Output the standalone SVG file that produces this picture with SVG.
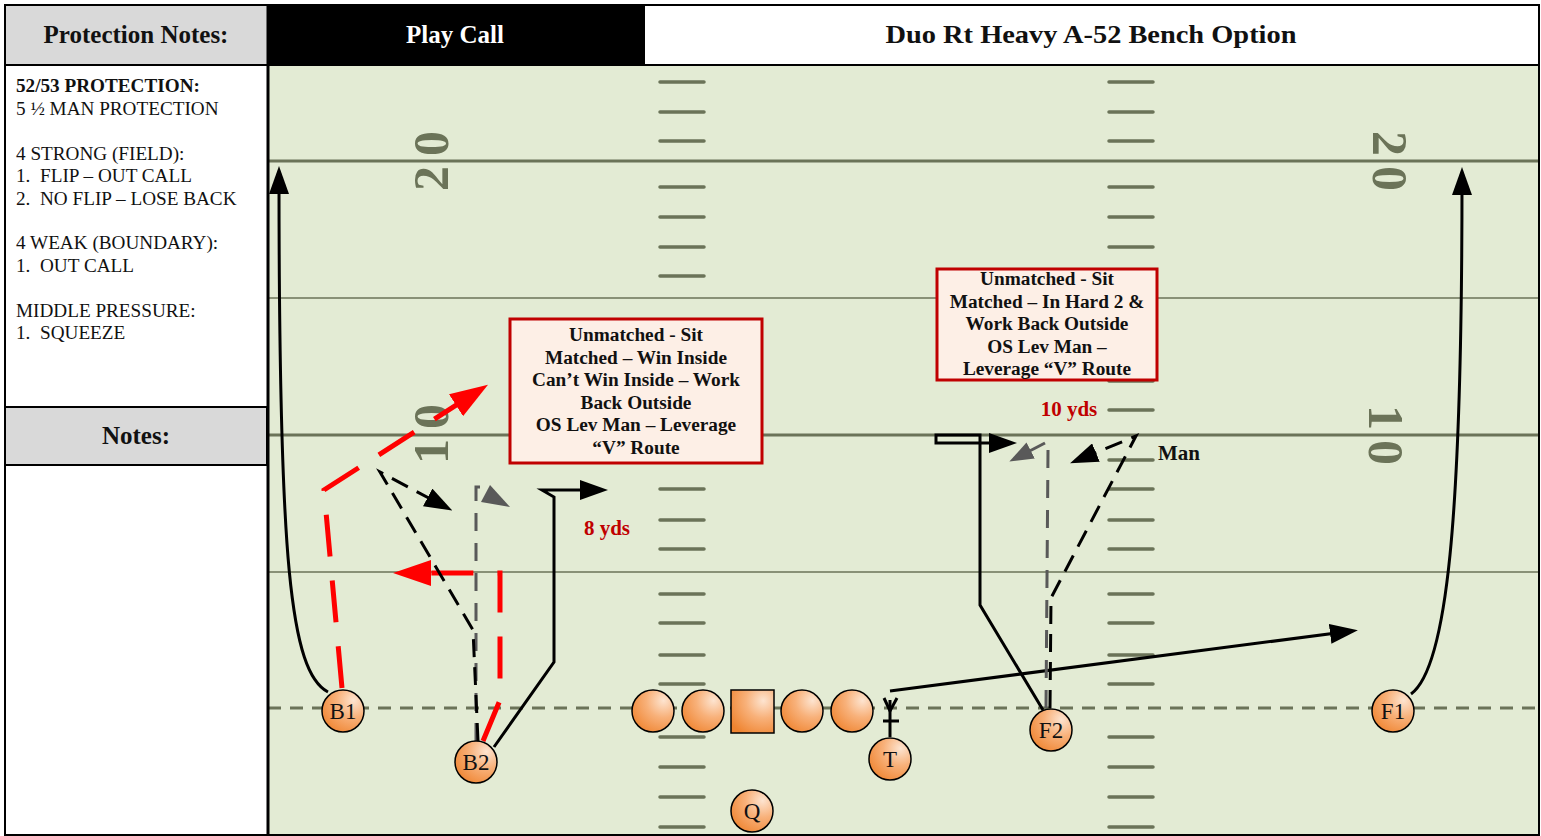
<svg xmlns="http://www.w3.org/2000/svg" width="1541" height="836" viewBox="0 0 1541 836">
<defs>
<radialGradient id="pg" cx="0.75" cy="0.25" r="0.9">
<stop offset="0" stop-color="#fde4d0"/>
<stop offset="0.45" stop-color="#f8b17a"/>
<stop offset="1" stop-color="#ef8430"/>
</radialGradient>
<marker id="ab" markerUnits="userSpaceOnUse" markerWidth="28" markerHeight="20" viewBox="0 0 28 20" refX="14" refY="10" orient="auto"><path d="M0,0 L28,10 L0,20 z" fill="#000"/></marker>
<marker id="ar" markerUnits="userSpaceOnUse" markerWidth="38" markerHeight="26" viewBox="0 0 38 26" refX="19" refY="13" orient="auto"><path d="M0,0 L38,13 L0,26 z" fill="#f00"/></marker>
<marker id="ag" markerUnits="userSpaceOnUse" markerWidth="24" markerHeight="18" viewBox="0 0 24 18" refX="12" refY="9" orient="auto"><path d="M0,0 L24,9 L0,18 z" fill="#595959"/></marker>
</defs>
<style>
.fl{stroke:#6b7358;fill:none}
.hash{stroke:#6b7358;stroke-width:3.5;stroke-linecap:round}
.yn{font-family:"Liberation Serif",serif;font-size:50px;font-weight:bold;fill:#6b7358;letter-spacing:10px;text-anchor:middle;dominant-baseline:central}
.pl{fill:url(#pg);stroke:#000;stroke-width:1.5}
.plt{font-family:"Liberation Serif",serif;font-size:23px;text-anchor:middle;fill:#111}
.solid{fill:none;stroke:#000;stroke-width:3}
.bd{fill:none;stroke:#000;stroke-width:3;stroke-dasharray:18 10}
.gd{fill:none;stroke:#595959;stroke-width:3;stroke-dasharray:18 12}
.rd{fill:none;stroke:#f00;stroke-width:5;stroke-dasharray:42 24}
.box{fill:#fdefe6;stroke:#c00000;stroke-width:3}
.bt{font-family:"Liberation Serif",serif;font-weight:bold;font-size:19.3px;text-anchor:middle;fill:#111}
.pt{font-family:"Liberation Serif",serif;font-size:19.2px;fill:#111}
.ptb{font-weight:bold}
.hd{font-family:"Liberation Serif",serif;font-weight:bold;font-size:25px;text-anchor:middle}
.yd{font-family:"Liberation Serif",serif;font-weight:bold;font-size:21px;fill:#c00000;text-anchor:middle}
</style>

<rect x="0" y="0" width="1541" height="836" fill="#fff"/>
<g id="field">
<rect x="268" y="65" width="1271" height="771" fill="#e3ebd4"/>
<line class="fl" x1="268" y1="161" x2="1539" y2="161" stroke-width="3"/>
<line class="fl" x1="268" y1="298" x2="1539" y2="298" stroke-width="1.5"/>
<line class="fl" x1="268" y1="435" x2="1539" y2="435" stroke-width="3"/>
<line class="fl" x1="268" y1="572" x2="1539" y2="572" stroke-width="1.5"/>
<line class="fl" x1="268" y1="708" x2="1539" y2="708" stroke-width="3" stroke-dasharray="13 9"/>
<g id="hashes">
<path class="hash" d="M660,82H704M660,112H704M660,141H704M660,187H704M660,217H704M660,247H704M660,276H704M660,323H704M660,352H704M660,381H704M660,410H704M660,460H704M660,489H704M660,520H704M660,549H704M660,594H704M660,623H704M660,655H704M660,684H704M660,737H704M660,767H704M660,797H704M660,827H704"/>
<path class="hash" d="M1109,82H1153M1109,112H1153M1109,141H1153M1109,187H1153M1109,217H1153M1109,247H1153M1109,276H1153M1109,323H1153M1109,352H1153M1109,381H1153M1109,410H1153M1109,460H1153M1109,489H1153M1109,520H1153M1109,549H1153M1109,594H1153M1109,623H1153M1109,655H1153M1109,684H1153M1109,737H1153M1109,767H1153M1109,797H1153M1109,827H1153"/>
</g>
<text class="yn" transform="translate(431,161) rotate(-90)" x="5" y="0">20</text>
<text class="yn" transform="translate(431,434) rotate(-90)" x="5" y="0">10</text>
<text class="yn" transform="translate(1390,161) rotate(90)" x="5" y="0">20</text>
<text class="yn" transform="translate(1386,435) rotate(90)" x="5" y="0">10</text>
</g>

<g id="header">
<rect x="5" y="5" width="262" height="60" fill="#d9d9d9"/>
<rect x="267" y="5" width="378" height="60" fill="#000"/>
<text class="hd" x="136" y="43" fill="#111">Protection Notes:</text>
<text class="hd" x="455" y="43" fill="#fff">Play Call</text>
<text class="hd" x="1091" y="43" fill="#111" font-size="28" textLength="411" lengthAdjust="spacingAndGlyphs">Duo Rt Heavy A-52 Bench Option</text>
</g>
<g id="protection-notes">
<text class="pt ptb" x="16" y="92">52/53 PROTECTION:</text>
<text class="pt" x="16" y="114.5">5 ½ MAN PROTECTION</text>
<text class="pt" x="16" y="159.5">4 STRONG (FIELD):</text>
<text class="pt" y="182"><tspan x="16">1.</tspan><tspan x="40">FLIP – OUT CALL</tspan></text>
<text class="pt" y="204.5"><tspan x="16">2.</tspan><tspan x="40">NO FLIP – LOSE BACK</tspan></text>
<text class="pt" x="16" y="249">4 WEAK (BOUNDARY):</text>
<text class="pt" y="271.5"><tspan x="16">1.</tspan><tspan x="40">OUT CALL</tspan></text>
<text class="pt" x="16" y="316.5">MIDDLE PRESSURE:</text>
<text class="pt" y="339"><tspan x="16">1.</tspan><tspan x="40">SQUEEZE</tspan></text>
</g>
<g id="notes">
<rect x="5" y="407" width="262" height="58" fill="#d9d9d9" stroke="#000" stroke-width="2"/>
<text class="hd" x="136" y="444" fill="#111">Notes:</text>
</g>
<g id="frame" fill="none" stroke="#000">
<rect x="5" y="5" width="1534" height="830" stroke-width="2"/>
<line x1="5" y1="65" x2="1539" y2="65" stroke-width="2"/>
<line x1="268" y1="5" x2="268" y2="836" stroke-width="3"/>
</g>

<g id="note-b2">
<rect class="box" x="510" y="319" width="252" height="144"/>
<text class="bt" x="636" y="341">Unmatched - Sit</text>
<text class="bt" x="636" y="363.5">Matched – Win Inside</text>
<text class="bt" x="636" y="386">Can’t Win Inside – Work</text>
<text class="bt" x="636" y="408.5">Back Outside</text>
<text class="bt" x="636" y="431">OS Lev Man – Leverage</text>
<text class="bt" x="636" y="453.5">“V” Route</text>
</g>
<g id="note-f2">
<rect class="box" x="937" y="269" width="220" height="111"/>
<text class="bt" x="1047" y="285">Unmatched - Sit</text>
<text class="bt" x="1047" y="307.5">Matched – In Hard 2 &amp;</text>
<text class="bt" x="1047" y="330">Work Back Outside</text>
<text class="bt" x="1047" y="352.5">OS Lev Man –</text>
<text class="bt" x="1047" y="375">Leverage “V” Route</text>
</g>
<g id="labels">
<text class="yd" x="607" y="535">8 yds</text>
<text class="yd" x="1069" y="416">10 yds</text>
<text x="1158" y="460" font-family="Liberation Serif,serif" font-weight="bold" font-size="21" fill="#111">Man</text>
</g>

<g id="connectors">
<path class="solid" d="M328,692 C290,672 279,560 279,180" marker-end="url(#ab)"/>
<path class="solid" d="M1411,694 C1447,668 1462,520 1462,181" marker-end="url(#ab)"/>
<path class="solid" d="M890,691 L1344,632" marker-end="url(#ab)"/>
<path class="solid" d="M494,747 L554,662 L554,497 L542,490 L594,490" marker-end="url(#ab)"/>
<path class="solid" d="M1043,710 L980,605 L980,435 L936,435 L936,443 L1003,443" marker-end="url(#ab)"/>
<path class="rd" d="M342,688 L324,490 L472,395" marker-end="url(#ar)"/>
<path class="rd" d="M483,741 L500,700 L500,573 L412,573" marker-end="url(#ar)"/>
<path class="gd" d="M476,741 L476,487 L480,487"/>
<polygon points="490,485 481,502 510,507" fill="#595959"/>
<path class="bd" d="M478,741 L473,630 L380,472 L440,504" marker-end="url(#ab)"/>
<path class="gd" d="M1046,708 L1048,450"/>
<path d="M1045,443 L1020,456" fill="none" stroke="#595959" stroke-width="3" marker-end="url(#ag)"/>
<path class="bd" d="M1050,708 L1051,598 L1136,436 L1083,458" marker-end="url(#ab)"/>
<g id="t-motion" stroke="#000" stroke-width="3" fill="none">
<line x1="890" y1="737" x2="890" y2="700"/>
<line x1="883" y1="721" x2="899" y2="721"/>
<polyline points="884,698 890,711 897,698"/>
</g>
</g>

<g id="B1"><circle class="pl" cx="343" cy="711" r="21"/><text class="plt" x="343" y="719">B1</text></g>
<g id="B2"><circle class="pl" cx="476" cy="762" r="21"/><text class="plt" x="476" y="770">B2</text></g>
<g id="OL1"><circle class="pl" cx="653" cy="711" r="21"/></g>
<g id="OL2"><circle class="pl" cx="703" cy="711" r="21"/></g>
<g id="C"><rect class="pl" x="731" y="690" width="43" height="43"/></g>
<g id="OL3"><circle class="pl" cx="802" cy="711" r="21"/></g>
<g id="OL4"><circle class="pl" cx="852" cy="711" r="21"/></g>
<g id="T"><circle class="pl" cx="890" cy="759" r="21"/><text class="plt" x="890" y="767">T</text></g>
<g id="Q"><circle class="pl" cx="752" cy="811" r="21"/><text class="plt" x="752" y="819">Q</text></g>
<g id="F2"><circle class="pl" cx="1051" cy="730" r="21"/><text class="plt" x="1051" y="738">F2</text></g>
<g id="F1"><circle class="pl" cx="1393" cy="711" r="21"/><text class="plt" x="1393" y="719">F1</text></g>
</svg>
